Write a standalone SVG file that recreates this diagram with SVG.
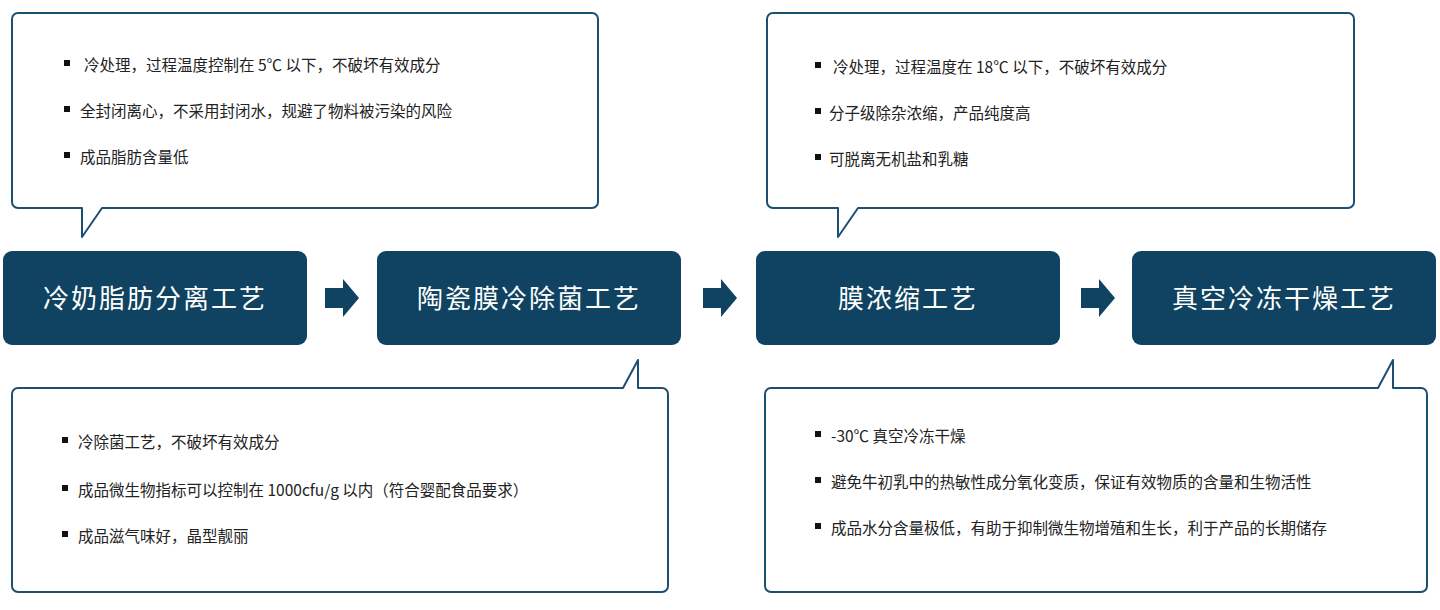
<svg xmlns="http://www.w3.org/2000/svg" width="1440" height="610" viewBox="0 0 1440 610">
<style>
.node{fill:#0f4361}
.nt{fill:#fff;font-family:"Noto Sans CJK SC",sans-serif;font-size:26px;letter-spacing:2px;text-anchor:middle}
.co{fill:#fff;stroke:#1d4f72;stroke-width:2;stroke-linejoin:round}
.t{fill:#222;font-family:"Noto Sans CJK SC",sans-serif;font-size:15.5px}
.b{fill:#111}
.ar{fill:#0f4361}
</style>
<rect width="1440" height="610" fill="#fff"/>
<g id="callout1">
<path class="co" d="M18 13H592a6 6 0 0 1 6 6V202a6 6 0 0 1-6 6H102L82 237V208H18a6 6 0 0 1-6-6V19a6 6 0 0 1 6-6Z"/>
<rect class="b" x="64" y="60" width="6" height="6"/><text class="t" x="84" y="71">冷处理，过程温度控制在 5℃ 以下，不破坏有效成分</text>
<rect class="b" x="64" y="106" width="6" height="6"/><text class="t" x="80" y="117">全封闭离心，不采用封闭水，规避了物料被污染的风险</text>
<rect class="b" x="64" y="152" width="6" height="6"/><text class="t" x="80" y="163">成品脂肪含量低</text>
</g>
<g id="callout2">
<path class="co" d="M18 388H623L638 360V388H662a6 6 0 0 1 6 6V586a6 6 0 0 1-6 6H18a6 6 0 0 1-6-6V394a6 6 0 0 1 6-6Z"/>
<rect class="b" x="62" y="437" width="6" height="6"/><text class="t" x="78" y="448">冷除菌工艺，不破坏有效成分</text>
<rect class="b" x="62" y="485" width="6" height="6"/><text class="t" x="78" y="496">成品微生物指标可以控制在 1000cfu/g 以内（符合婴配食品要求）</text>
<rect class="b" x="62" y="531" width="6" height="6"/><text class="t" x="78" y="542">成品滋气味好，晶型靓丽</text>
</g>
<g id="callout3">
<path class="co" d="M773 13H1348a6 6 0 0 1 6 6V202a6 6 0 0 1-6 6H858L838 237V208H773a6 6 0 0 1-6-6V19a6 6 0 0 1 6-6Z"/>
<rect class="b" x="815" y="62" width="6" height="6"/><text class="t" x="833" y="73">冷处理，过程温度在 18℃ 以下，不破坏有效成分</text>
<rect class="b" x="815" y="108" width="6" height="6"/><text class="t" x="829" y="119">分子级除杂浓缩，产品纯度高</text>
<rect class="b" x="815" y="154" width="6" height="6"/><text class="t" x="829" y="165">可脱离无机盐和乳糖</text>
</g>
<g id="callout4">
<path class="co" d="M771 388H1378L1393 360V388H1421a6 6 0 0 1 6 6V586a6 6 0 0 1-6 6H771a6 6 0 0 1-6-6V394a6 6 0 0 1 6-6Z"/>
<rect class="b" x="815" y="431" width="6" height="6"/><text class="t" x="831" y="442">-30℃ 真空冷冻干燥</text>
<rect class="b" x="815" y="477" width="6" height="6"/><text class="t" x="831" y="488">避免牛初乳中的热敏性成分氧化变质，保证有效物质的含量和生物活性</text>
<rect class="b" x="815" y="523" width="6" height="6"/><text class="t" x="831" y="534">成品水分含量极低，有助于抑制微生物增殖和生长，利于产品的长期储存</text>
</g>
<g id="node1"><rect class="node" x="3" y="251" width="304" height="94" rx="9"/><text class="nt" x="155" y="308">冷奶脂肪分离工艺</text></g>
<g id="node2"><rect class="node" x="377" y="251" width="304" height="94" rx="9"/><text class="nt" x="529" y="308">陶瓷膜冷除菌工艺</text></g>
<g id="node3"><rect class="node" x="756" y="251" width="304" height="94" rx="9"/><text class="nt" x="908" y="308">膜浓缩工艺</text></g>
<g id="node4"><rect class="node" x="1132" y="251" width="304" height="94" rx="9"/><text class="nt" x="1284" y="308">真空冷冻干燥工艺</text></g>
<g id="connectors">
<path class="ar" d="M325 288H343V279L359 298L343 317V308H325Z"/>
<path class="ar" d="M703 288H721V279L737 298L721 317V308H703Z"/>
<path class="ar" d="M1081 288H1099V279L1115 298L1099 317V308H1081Z"/>
</g>
</svg>
